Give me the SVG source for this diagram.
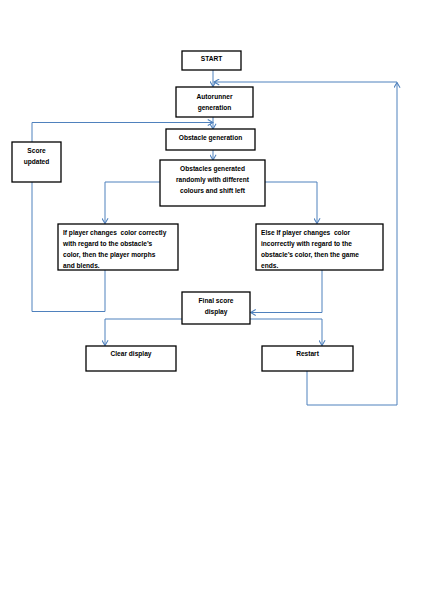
<svg xmlns="http://www.w3.org/2000/svg" width="424" height="600" viewBox="0 0 424 600">
<style>
.box{fill:#fff;stroke:#000;stroke-width:1.3}
.t{font-family:"Liberation Sans",Arial,sans-serif;font-weight:bold;font-size:6.6px;fill:#000}
.c{text-anchor:middle}
.ln{fill:none;stroke:#4f81bd;stroke-width:1}
</style>
<defs>
<marker id="ah" viewBox="0 0 8 8" refX="7" refY="4" markerWidth="7" markerHeight="7" markerUnits="userSpaceOnUse" orient="auto">
<path d="M1,0.5 L7,4 L1,7.5" fill="none" stroke="#4f81bd" stroke-width="1.2"/>
</marker>
</defs>
<rect width="424" height="600" fill="#fff"/>
<g id="connectors">
<path class="ln" d="M213,70 V86.5" marker-end="url(#ah)"/>
<path class="ln" d="M307,371 V405 H397 V82.5" marker-end="url(#ah)"/>
<path class="ln" d="M397,82 H214" marker-end="url(#ah)"/>
<path class="ln" d="M213,117 V129" marker-end="url(#ah)"/>
<path class="ln" d="M32,142 V122.5 H213" marker-end="url(#ah)"/>
<path class="ln" d="M213,150 V160" marker-end="url(#ah)"/>
<path class="ln" d="M160,182 H105 V223.5" marker-end="url(#ah)"/>
<path class="ln" d="M265,182 H317 V223.5" marker-end="url(#ah)"/>
<path class="ln" d="M105,270 V311.5 H32 V182"/>
<path class="ln" d="M322,270 V312.5 H250.5" marker-end="url(#ah)"/>
<path class="ln" d="M182,319 H105 V345.5" marker-end="url(#ah)"/>
<path class="ln" d="M250,319 H322 V345.5" marker-end="url(#ah)"/>
</g>
<g id="start">
<rect class="box" x="182" y="51" width="59" height="19"/>
<text class="t c" x="211.5" y="60.5">START</text>
</g>
<g id="autorunner">
<rect class="box" x="176" y="87" width="77" height="30"/>
<text class="t c" x="214.5" y="98.5">Autorunner</text>
<text class="t c" x="214.5" y="109.5">generation</text>
</g>
<g id="obstacle-generation">
<rect class="box" x="166" y="129" width="89" height="21"/>
<text class="t c" x="210.5" y="139.5">Obstacle generation</text>
</g>
<g id="score-updated">
<rect class="box" x="12" y="142" width="49" height="40"/>
<text class="t c" x="36.5" y="152.5">Score</text>
<text class="t c" x="36.5" y="163.5">updated</text>
</g>
<g id="obstacles-generated">
<rect class="box" x="160" y="160" width="105" height="46"/>
<text class="t c" x="212.5" y="170.5">Obstacles generated</text>
<text class="t c" x="212.5" y="181.5">randomly with different</text>
<text class="t c" x="212.5" y="192.5">colours and shift left</text>
</g>
<g id="correct">
<rect class="box" x="58" y="224" width="120" height="46"/>
<text class="t" x="63" y="234.5" xml:space="preserve">If player changes  color correctly</text>
<text class="t" x="63" y="245.5">with regard to the obstacle’s</text>
<text class="t" x="63" y="256.5">color, then the player morphs</text>
<text class="t" x="63" y="267.5">and blends.</text>
</g>
<g id="incorrect">
<rect class="box" x="256" y="224" width="127" height="46"/>
<text class="t" x="261" y="234.5" xml:space="preserve">Else If player changes  color</text>
<text class="t" x="261" y="245.5">incorrectly with regard to the</text>
<text class="t" x="261" y="256.5">obstacle’s color, then the game</text>
<text class="t" x="261" y="267.5">ends.</text>
</g>
<g id="final-score">
<rect class="box" x="182" y="292" width="68" height="32"/>
<text class="t c" x="216" y="303">Final score</text>
<text class="t c" x="216" y="314">display</text>
</g>
<g id="clear-display">
<rect class="box" x="86" y="346" width="90" height="25"/>
<text class="t c" x="131" y="356">Clear display</text>
</g>
<g id="restart">
<rect class="box" x="262" y="346" width="91" height="25"/>
<text class="t c" x="307.5" y="356">Restart</text>
</g>
</svg>
